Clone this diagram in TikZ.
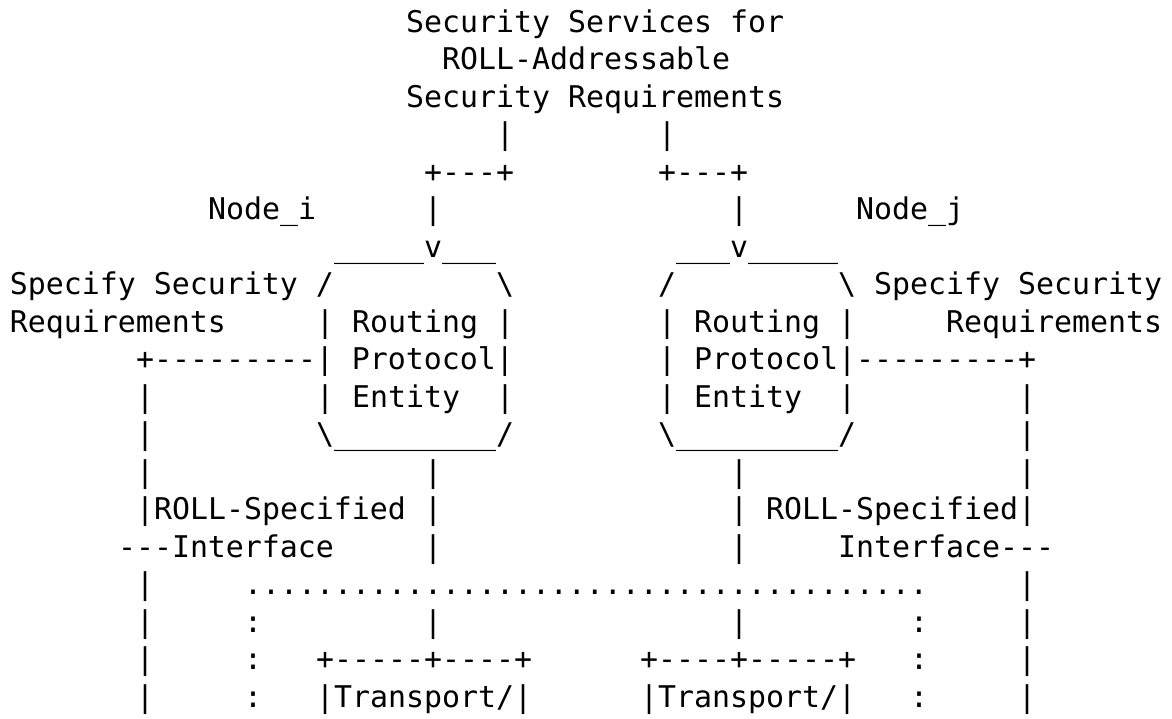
\documentclass[tikz,border=0pt]{standalone}
\usepackage{fontspec}
\setmonofont{DejaVu Sans Mono}
\newcommand\asc[4]{\node[ascii] (#1) at ({10+18*#3},{32+37.5*(#2-1)}) {#4};}
\begin{document}
\begin{tikzpicture}[x=0.5pt,y=-0.5pt,
  ascii/.style={anchor=base west,inner sep=0pt,outer sep=0pt,
    font=\ttfamily\fontsize{14.95pt}{18pt}\selectfont,text=black}]
\useasboundingbox[fill=white] (0,0) rectangle (1172,718);
% row 1-3 : title
\asc{t1}{1}{22}{Security Services for}
\asc{t2}{2}{24}{ROLL-Addressable}
\asc{t3}{3}{22}{Security Requirements}
% row 4
\asc{r4a}{4}{27}{|}
\asc{r4b}{4}{36}{|}
% row 5
\asc{r5a}{5}{23}{+---+}
\asc{r5b}{5}{36}{+---+}
% row 6
\asc{ni}{6}{11}{Node\_i}
\asc{r6a}{6}{23}{|}
\asc{r6b}{6}{40}{|}
\asc{nj}{6}{47}{Node\_j}
% row 7
\asc{r7a}{7}{18}{\_\_\_\_\_v\_\_\_}
\asc{r7b}{7}{37}{\_\_\_v\_\_\_\_\_}
% row 8
\asc{r8a}{8}{0}{Specify Security /}
\asc{r8b}{8}{27}{\textbackslash}
\asc{r8c}{8}{36}{/}
\asc{r8d}{8}{46}{\textbackslash{} Specify Security}
% row 9
\asc{r9a}{9}{0}{Requirements}
\asc{r9b}{9}{17}{| Routing |}
\asc{r9c}{9}{36}{| Routing |}
\asc{r9d}{9}{52}{Requirements}
% row 10
\asc{r10a}{10}{7}{+---------| Protocol|}
\asc{r10b}{10}{36}{| Protocol|---------+}
% row 11
\asc{r11a}{11}{7}{|}
\asc{r11b}{11}{17}{| Entity}
\asc{r11c}{11}{27}{|}
\asc{r11d}{11}{36}{| Entity}
\asc{r11e}{11}{46}{|}
\asc{r11f}{11}{56}{|}
% row 12
\asc{r12a}{12}{7}{|}
\asc{r12b}{12}{17}{\textbackslash\_\_\_\_\_\_\_\_\_/}
\asc{r12c}{12}{36}{\textbackslash\_\_\_\_\_\_\_\_\_/}
\asc{r12d}{12}{56}{|}
% row 13
\asc{r13a}{13}{7}{|}
\asc{r13b}{13}{23}{|}
\asc{r13c}{13}{40}{|}
\asc{r13d}{13}{56}{|}
% row 14
\asc{r14a}{14}{7}{|ROLL-Specified}
\asc{r14b}{14}{23}{|}
\asc{r14c}{14}{40}{| ROLL-Specified|}
% row 15
\asc{r15a}{15}{6}{---Interface}
\asc{r15b}{15}{23}{|}
\asc{r15c}{15}{40}{|}
\asc{r15d}{15}{46}{Interface---}
% row 16
\asc{r16a}{16}{7}{|}
\asc{r16b}{16}{13}{......................................}
\asc{r16c}{16}{56}{|}
% row 17
\asc{r17a}{17}{7}{|}
\asc{r17b}{17}{13}{:}
\asc{r17c}{17}{23}{|}
\asc{r17d}{17}{40}{|}
\asc{r17e}{17}{50}{:}
\asc{r17f}{17}{56}{|}
% row 18
\asc{r18a}{18}{7}{|}
\asc{r18b}{18}{13}{:}
\asc{r18c}{18}{17}{+-----+----+}
\asc{r18d}{18}{35}{+----+-----+}
\asc{r18e}{18}{50}{:}
\asc{r18f}{18}{56}{|}
% row 19
\asc{r19a}{19}{7}{|}
\asc{r19b}{19}{13}{:}
\asc{r19c}{19}{17}{|Transport/|}
\asc{r19d}{19}{35}{|Transport/|}
\asc{r19e}{19}{50}{:}
\asc{r19f}{19}{56}{|}
\end{tikzpicture}
\end{document}
